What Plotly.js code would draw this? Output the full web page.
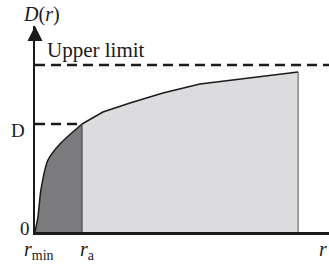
<!DOCTYPE html>
<html>
<head>
<meta charset="utf-8">
<script src="https://cdn.plot.ly/plotly-3.0.1.min.js"></script>
<style>html,body{margin:0;padding:0;background:#fff;}#chart{width:329px;height:265px;}</style>
</head>
<body>
<div id="chart"></div>
<script>
// Curve D(r) (r in arbitrary units, r_min = 0)
const rInner = [0, 0.10, 0.20, 0.44, 0.88, 1.6];
const dInner = [0, 0.75, 2.1, 3.6, 4.45, 5.4];
const rOuter = [1.6, 2.31, 3.23, 4.35, 5.61, 8.95];
const dOuter = [5.4, 6.0, 6.45, 6.95, 7.4, 8.0];
const rA = 1.6;
const dA = 5.4;
const upperLimit = 8.35;
const rEnd = 8.95;
const dEnd = 8.0;

const serif = "Liberation Serif, DejaVu Serif, serif";

const traces = [
  { x: rOuter, y: dOuter, type: 'scatter', mode: 'lines', fill: 'tozeroy',
    fillcolor: '#dcdcde', line: { color: '#1a1a1a', width: 1.5 }, hoverinfo: 'skip' },
  { x: rInner, y: dInner, type: 'scatter', mode: 'lines', fill: 'tozeroy',
    fillcolor: '#7b7b7d', line: { color: '#1a1a1a', width: 1.5, shape: 'spline', smoothing: 0.6 }, hoverinfo: 'skip' },
  { x: [rA, rA], y: [0, dA], type: 'scatter', mode: 'lines',
    line: { color: '#3a3a3a', width: 1 }, hoverinfo: 'skip' },
  { x: [rEnd, rEnd], y: [0, dEnd], type: 'scatter', mode: 'lines',
    line: { color: '#555', width: 1 }, hoverinfo: 'skip' },
  { x: [0, 10], y: [upperLimit, upperLimit], type: 'scatter', mode: 'lines',
    line: { color: '#1a1a1a', width: 2.5, dash: '10px,6px' }, hoverinfo: 'skip' },
  { x: [0, rA], y: [dA, dA], type: 'scatter', mode: 'lines',
    line: { color: '#1a1a1a', width: 2.5, dash: '10px,6px' }, hoverinfo: 'skip' }
];

function label(x, y, text, size, xanchor) {
  return { x: x, y: y, xref: 'paper', yref: 'paper', text: text, showarrow: false,
           xanchor: xanchor || 'center', yanchor: 'middle',
           font: { family: serif, size: size, color: '#1a1a1a' } };
}

const layout = {
  width: 329, height: 265,
  margin: { l: 35, r: 0, t: 26, b: 33 },
  paper_bgcolor: '#fff', plot_bgcolor: '#fff',
  showlegend: false,
  xaxis: { range: [0, 10], showgrid: false, zeroline: false, showticklabels: false,
           ticks: '', showline: true, linecolor: '#1a1a1a', linewidth: 2.5, fixedrange: true },
  yaxis: { range: [0, 10.3], showgrid: false, zeroline: false, showticklabels: false,
           ticks: '', showline: true, linecolor: '#1a1a1a', linewidth: 2.5, fixedrange: true },
  font: { family: serif, size: 17, color: '#1a1a1a' },
  annotations: [
    { x: 0, y: 10.3, ax: 0, ay: 9.5, xref: 'x', yref: 'y', axref: 'x', ayref: 'y',
      text: '', showarrow: true, arrowhead: 2, arrowsize: 1.2, arrowwidth: 2.5, arrowcolor: '#1a1a1a' },
    label(0.022, 1.055, '<i>D</i>(<i>r</i>)', 20),
    label(0.034, 0.883, 'Upper limit', 21, 'left'),
    label(-0.058, 0.495, 'D', 19),
    label(-0.034, 0.019, '0', 19),
    label(0.014, -0.092, '<i>r</i><sub>min</sub>', 20),
    label(0.177, -0.092, '<i>r</i><sub>a</sub>', 20),
    label(0.98, -0.083, '<i>r</i>', 20)
  ]
};

Plotly.newPlot('chart', traces, layout, { staticPlot: true, displayModeBar: false });
</script>
</body>
</html>
